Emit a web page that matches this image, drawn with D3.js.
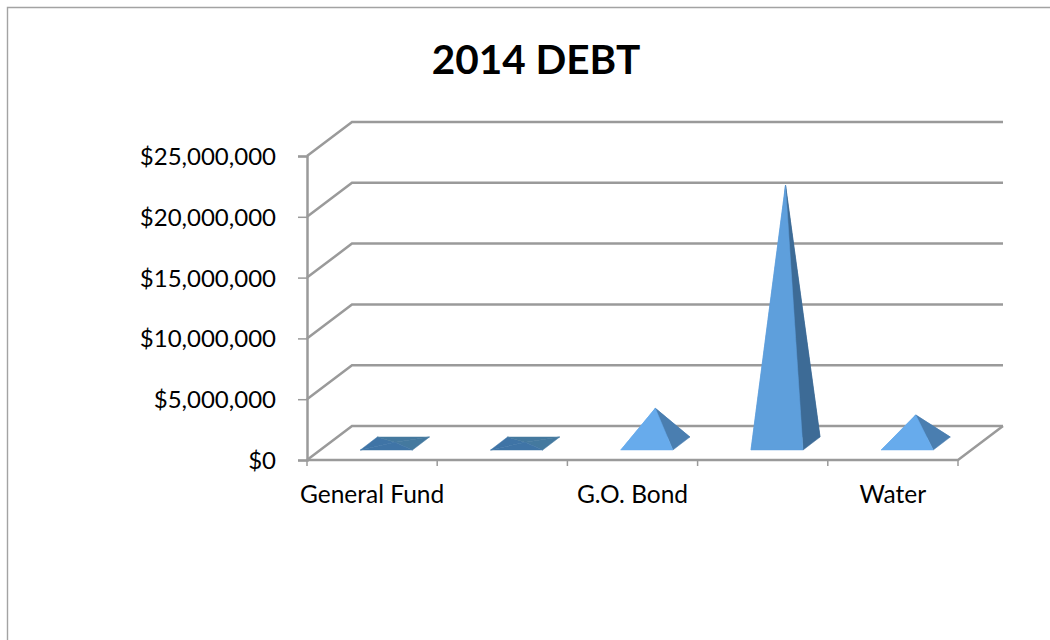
<!DOCTYPE html>
<html>
<head>
<meta charset="utf-8">
<script src="https://cdn.jsdelivr.net/npm/d3@7"></script>
<style>
  html, body { margin: 0; padding: 0; background: #fff; }
  svg { display: block; }
  text { font-family: Lato, "Open Sans", sans-serif; fill: #000; }
</style>
</head>
<body>
<svg id="chart" width="1050" height="640"></svg>
<script>
// Debt by fund; only every other category name is printed on the axis.
const categories = ["General Fund", "Fund B", "G.O. Bond", "Fund D", "Water"];
const printedCategories = ["General Fund", "G.O. Bond", "Water"];
const debtValues = [100000, 100000, 2900000, 21250000, 2350000];
const yTicks = [0, 5000000, 10000000, 15000000, 20000000, 25000000];
const frontFills = ["#3f74a6", "#3f74a6", "#67abec", "#5e9fdc", "#67abec"];
const sideFills = ["#44799f", "#44799f", "#4a7eb0", "#3d6b96", "#4a7eb0"];

const svg = d3.select("#chart");
const gridColor = "#9a9a9a";

// Oblique projection of the chart box: a wall set back from the front plane.
const wallDepth = { dx: 45, dy: -34 };
const y = d3.scaleLinear().domain([0, 25000000]).range([460, 156]);
const x = d3.scaleBand().domain(categories).range([307, 958]);

// Pyramid footprint inside each band, and how far its base sits into the floor.
const baseWidth = x.bandwidth() * 0.4;
const baseOffset = { dx: x.bandwidth() * 0.41, dy: -10 };
const baseDepth = { dx: 17, dy: -13 };

// Outer frame, open on the right and at the bottom.
svg.append("path")
  .attr("d", "M7.5,640V7.5H1050")
  .attr("fill", "none").attr("stroke", "#a3a3a3").attr("stroke-width", 1.4);

svg.append("text")
  .attr("x", 536).attr("y", 74)
  .attr("text-anchor", "middle")
  .attr("font-size", 40.5).attr("font-weight", 700)
  .text("2014 DEBT");

// Gridlines run up the side wall and across the back wall.
const line = d3.line();
svg.append("g").selectAll("path").data(yTicks).join("path")
  .attr("d", d => line([
    [x.range()[0], y(d)],
    [x.range()[0] + wallDepth.dx, y(d) + wallDepth.dy],
    [x.range()[1] + wallDepth.dx, y(d) + wallDepth.dy]
  ]))
  .attr("fill", "none").attr("stroke", gridColor).attr("stroke-width", 2.5);

// Floor edges at the front and on the right.
svg.append("path")
  .attr("d", line([
    [x.range()[0], y(0)],
    [x.range()[1], y(0)],
    [x.range()[1] + wallDepth.dx, y(0) + wallDepth.dy]
  ]))
  .attr("fill", "none").attr("stroke", gridColor).attr("stroke-width", 2.5);

// Value axis.
const yAxis = svg.append("g").attr("transform", `translate(${x.range()[0]},0)`)
  .call(d3.axisLeft(y).tickValues(yTicks).tickSize(9).tickPadding(22)
    .tickFormat(d => "$" + d3.format(",")(d)));
yAxis.selectAll("line").attr("stroke", gridColor).attr("stroke-width", 1.5);
yAxis.select("path").attr("stroke", gridColor).attr("stroke-width", 2.5);
yAxis.selectAll("text").attr("font-size", 24).attr("font-family", "Lato, sans-serif").attr("dy", "0.35em");

// Category axis: tick marks at band edges, names centred in their bands.
const edges = categories.map(c => x(c)).concat(x.range()[1]);
svg.append("g").selectAll("line").data(edges).join("line")
  .attr("x1", d => d).attr("x2", d => d)
  .attr("y1", y(0)).attr("y2", y(0) + 6)
  .attr("stroke", gridColor).attr("stroke-width", 1.5);
svg.append("g").selectAll("text").data(printedCategories).join("text")
  .attr("x", d => x(d) + x.bandwidth() / 2)
  .attr("y", 503)
  .attr("text-anchor", "middle")
  .attr("font-size", 24.5)
  .text(d => d);

// One pyramid per category, with its apex above the centre of the base.
const polygon = pts => "M" + pts.join("L") + "Z";
const pyramids = svg.append("g").selectAll("g")
  .data(categories.map((name, i) => ({ name, value: debtValues[i], front: frontFills[i], side: sideFills[i] })))
  .join("g");

const corners = d => {
  const x0 = x(d.name) + baseOffset.dx;
  const y0 = y(0) + baseOffset.dy;
  const fl = [x0, y0];
  const fr = [x0 + baseWidth, y0];
  const br = [fr[0] + baseDepth.dx, y0 + baseDepth.dy];
  const bl = [x0 + baseDepth.dx, y0 + baseDepth.dy];
  const apex = [
    x0 + (baseWidth + baseDepth.dx) / 2,
    y0 + baseDepth.dy / 2 - (y(0) - y(d.value))
  ];
  return { fl, fr, br, bl, apex };
};

// Rear faces first, so they only show when a pyramid is nearly flat.
const face = (pick, fill) => pyramids.append("path")
  .attr("d", d => polygon(pick(corners(d))))
  .attr("fill", fill)
  .attr("stroke", fill)
  .attr("stroke-width", 0.5)
  .attr("stroke-linejoin", "round");

face(c => [c.fl, c.apex, c.bl], d => d.front);
face(c => [c.bl, c.apex, c.br], d => d.side);
face(c => [c.fr, c.br, c.apex], d => d.side);
face(c => [c.fl, c.fr, c.apex], d => d.front);
</script>
</body>
</html>
